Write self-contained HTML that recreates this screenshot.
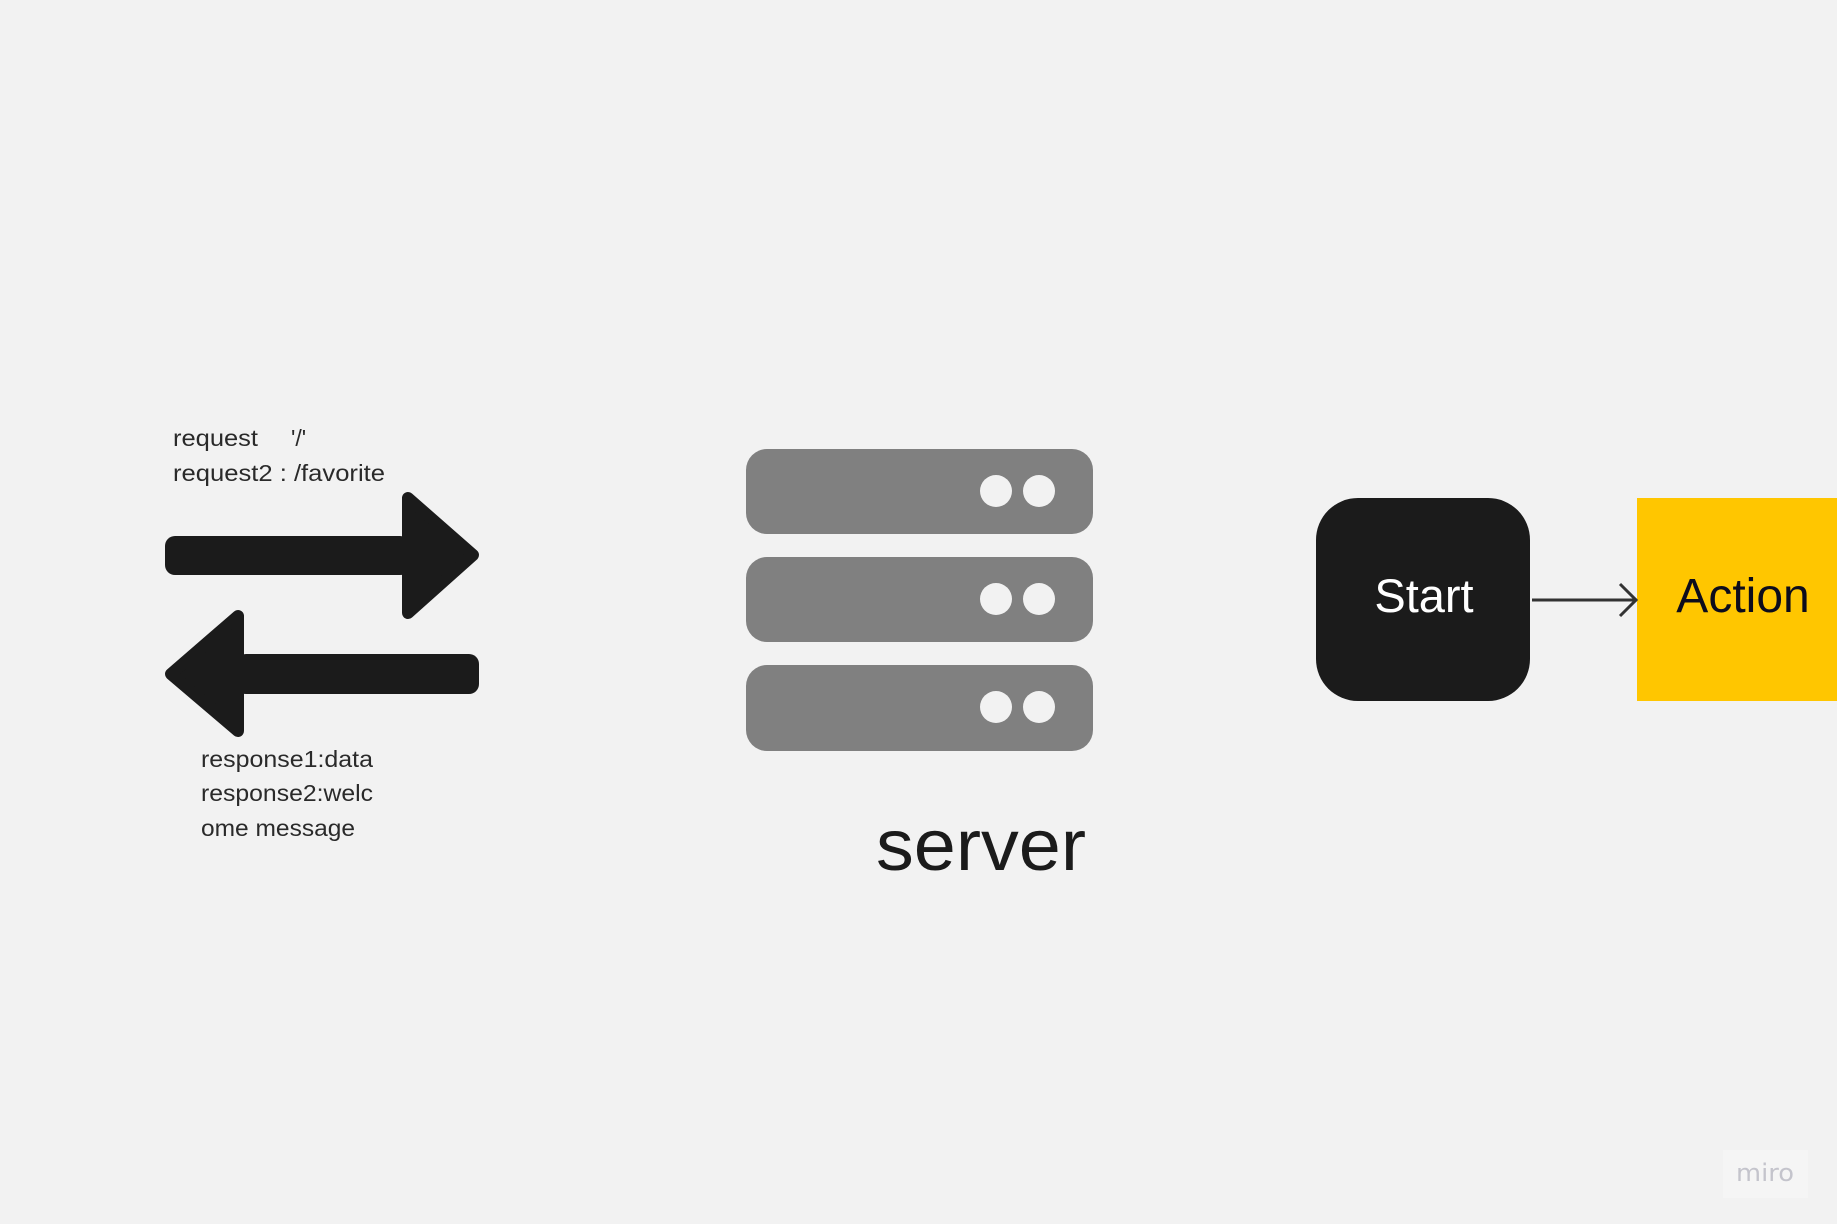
<!DOCTYPE html>
<html><head><meta charset="utf-8"><style>
html,body{margin:0;padding:0;background:#f2f2f2;}
svg{display:block}
</style></head><body>
<svg width="1837" height="1224" viewBox="0 0 1837 1224" xmlns="http://www.w3.org/2000/svg">
<rect width="1837" height="1224" fill="#f2f2f2"/>
<g font-family="'Liberation Sans', sans-serif" font-size="23" fill="#2a2a2a">
<text x="173" y="446" textLength="85" lengthAdjust="spacingAndGlyphs">request</text>
<text x="291" y="446">'/'</text>
<text x="173" y="481" textLength="212" lengthAdjust="spacingAndGlyphs">request2 : /favorite</text>
<text x="201" y="767" textLength="172" lengthAdjust="spacingAndGlyphs">response1:data</text>
<text x="201" y="801" textLength="172" lengthAdjust="spacingAndGlyphs">response2:welc</text>
<text x="201" y="836" textLength="154" lengthAdjust="spacingAndGlyphs">ome message</text>
</g>
<g fill="#1b1b1b" stroke="#1b1b1b" stroke-linejoin="round">
<rect x="165" y="536" width="245" height="39" rx="10" stroke="none"/>
<path d="M408 498 L473 555 L408 613 Z" stroke-width="12"/>
<rect x="236" y="654" width="243" height="40" rx="10" stroke="none"/>
<path d="M238 616 L171 674 L238 731 Z" stroke-width="12"/>
</g>
<g fill="#808080">
<rect x="746" y="449" width="347" height="85" rx="21"/>
<rect x="746" y="557" width="347" height="85" rx="21"/>
<rect x="746" y="665" width="347" height="86" rx="21"/>
</g>
<g fill="#f2f2f2">
<circle cx="996" cy="491" r="16"/><circle cx="1039" cy="491" r="16"/>
<circle cx="996" cy="599" r="16"/><circle cx="1039" cy="599" r="16"/>
<circle cx="996" cy="707" r="16"/><circle cx="1039" cy="707" r="16"/>
</g>
<text x="876" y="870" font-family="'Liberation Sans', sans-serif" font-size="72" fill="#1b1b1b" textLength="210" lengthAdjust="spacingAndGlyphs">server</text>
<rect x="1316" y="498" width="214" height="203" rx="42" fill="#1b1b1b"/>
<text x="1424" y="612" text-anchor="middle" font-family="'Liberation Sans', sans-serif" font-size="47" fill="#ffffff">Start</text>
<rect x="1637" y="498" width="200" height="203" fill="#ffc600"/>
<text x="1743" y="612" text-anchor="middle" font-family="'Liberation Sans', sans-serif" font-size="48" fill="#0c0c1c">Action</text>
<line x1="1532" y1="600" x2="1637" y2="600" stroke="#333" stroke-width="3"/>
<path d="M1620 584 L1636 600 L1620 616" fill="none" stroke="#333" stroke-width="3"/>
<rect x="1723" y="1150" width="85" height="48" fill="#f5f5f5"/>
<text x="1736" y="1181" font-family="'DejaVu Sans', sans-serif" font-size="24" fill="#c4c4cc" textLength="58" lengthAdjust="spacingAndGlyphs">miro</text>
</svg>
</body></html>
